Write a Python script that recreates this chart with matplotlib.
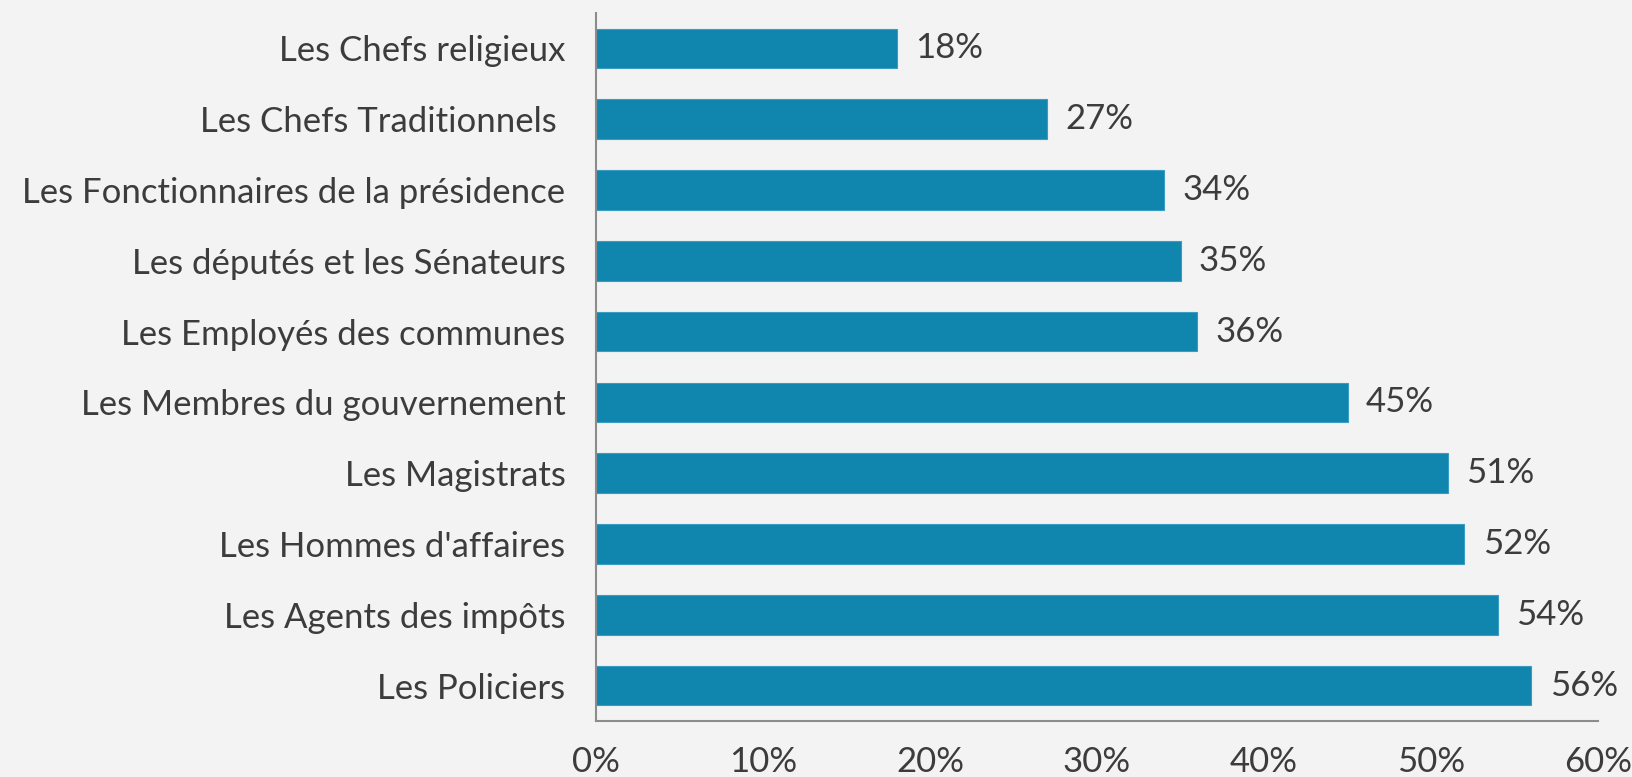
import matplotlib.pyplot as plt
from matplotlib.ticker import FuncFormatter

categories = [
    "Les Chefs religieux",
    "Les Chefs Traditionnels ",
    "Les Fonctionnaires de la présidence",
    "Les députés et les Sénateurs",
    "Les Employés des communes",
    "Les Membres du gouvernement",
    "Les Magistrats",
    "Les Hommes d'affaires",
    "Les Agents des impôts",
    "Les Policiers",
]
values = [0.18, 0.27, 0.34, 0.35, 0.36, 0.45, 0.51, 0.52, 0.54, 0.56]
xticks = [0.0, 0.1, 0.2, 0.3, 0.4, 0.5, 0.6]

bar_color = "#1085AD"
text_color = "#3C3C3C"
bg = "#F3F3F3"
fs = 25

plt.rcParams['font.family'] = ['Lato', 'DejaVu Sans']

fig = plt.figure(figsize=(16.32, 7.77), dpi=100, facecolor=bg)
ax = fig.add_axes([0.3652, 0.0721, 0.6140, 0.9112])
ax.set_facecolor(bg)

pos = list(range(len(categories)))
ax.barh(pos, values, height=0.56, color=bar_color, edgecolor="#3A9CC0", linewidth=0.8)

for p, v in zip(pos, values):
    ax.text(v + 0.011, p, f"{round(v * 100)}%", va="center", ha="left",
            fontsize=fs, color=text_color)

ax.set_yticks(pos)
ax.set_yticklabels(categories, fontsize=fs, color=text_color)
ax.set_ylim(len(categories) - 0.5, -0.5)

ax.set_xlim(0, 0.6)
ax.set_xticks(xticks)
ax.xaxis.set_major_formatter(FuncFormatter(lambda x, _: f"{round(x * 100)}%"))
ax.tick_params(axis="x", length=0, pad=18, labelsize=fs, labelcolor=text_color)
ax.tick_params(axis="y", length=0, pad=22)

for s in ["top", "right"]:
    ax.spines[s].set_visible(False)
for s in ["left", "bottom"]:
    ax.spines[s].set_color("#8C8C8C")
    ax.spines[s].set_linewidth(1.5)

fig.savefig("out.png", dpi=100, facecolor=bg)
